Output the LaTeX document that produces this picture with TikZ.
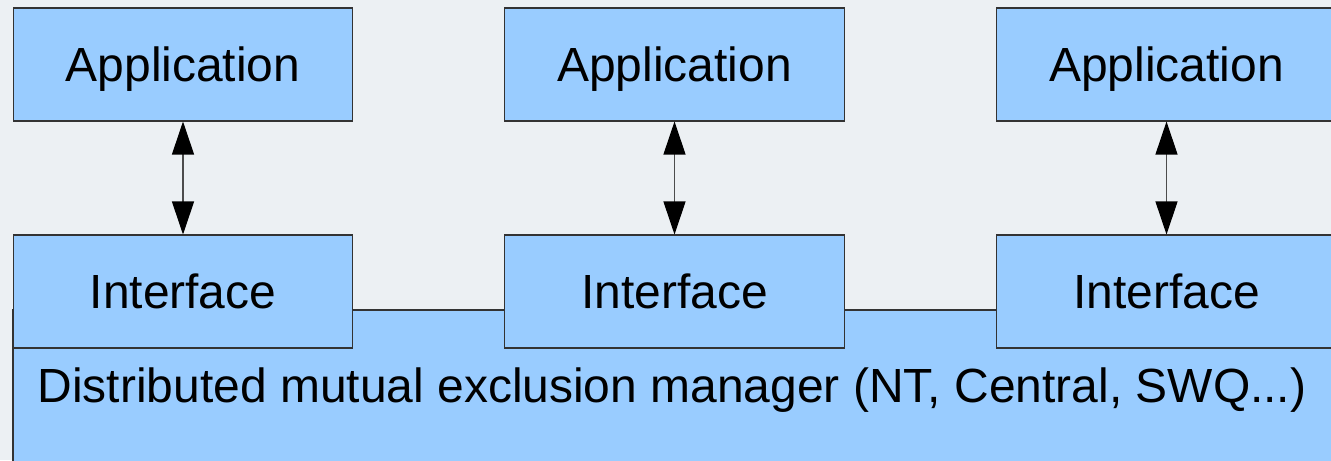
\documentclass[tikz,border=0pt]{standalone}
\usepackage{fontspec}
\setmainfont{Liberation Sans}
\usepackage{xcolor}
\usetikzlibrary{positioning,arrows.meta,calc}

\definecolor{BoxBlue}{HTML}{99CCFF}
\definecolor{PageGrey}{HTML}{ECF0F3}
\definecolor{EdgeGrey}{HTML}{333333}

\begin{document}
\begin{tikzpicture}[x=0.02cm,y=-0.02cm]
      % every box of the picture has the same look
      \tikzset{BoxStyle/.style = {draw=EdgeGrey, fill=BoxBlue, line width=0.6pt,
            rectangle, minimum width=6.8cm, minimum height=2.26cm,
            text height=0.68cm, text depth=0pt,
            inner sep=0pt, font=\fontsize{27.3}{32}\selectfont}}
      % double arrow between an application and its interface
      \tikzset{LinkStyle/.style = {draw=black!70, line width=0.6pt,
            {Triangle[width=0.44cm,length=0.66cm,color=black]}-{Triangle[width=0.44cm,length=0.66cm,color=black]}}}
      % the picture is cut at its right and bottom edges
      \clip (0,0) rectangle (1331,460);
      \fill[PageGrey] (0,0) rectangle (1331,460);
      % the manager lies behind the interfaces
      \draw[draw=EdgeGrey, fill=BoxBlue, line width=0.6pt] (13,310) rectangle (1360,480);
      \node[font=\fontsize{27.3}{32}\selectfont, anchor=base, inner sep=0pt] (Manager) at (672,402)
            {Distributed mutual exclusion manager (NT, Central, SWQ...)};
      % the three columns
      \foreach \name/\x in {A/183, B/674.5, C/1166.5} {
        \node[BoxStyle] (App\name) at (\x,64.5) {Application};
        \node[BoxStyle] (Int\name) at (\x,291.5) {Interface};
        \draw[LinkStyle] (App\name) -- (Int\name);
      }
\end{tikzpicture}
\end{document}
